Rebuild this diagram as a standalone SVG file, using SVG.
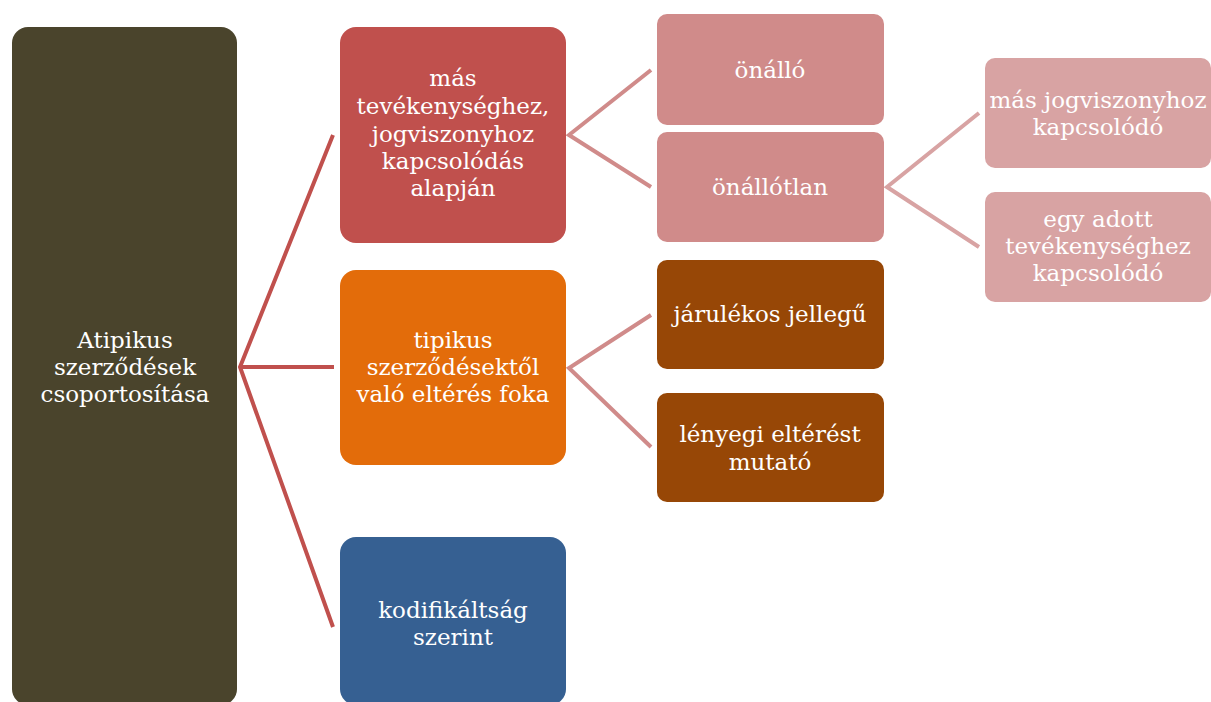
<svg xmlns="http://www.w3.org/2000/svg" width="1211" height="702" viewBox="0 0 1211 702">
<style>
text{font-family:"DejaVu Serif","Liberation Serif",serif;font-size:23px;fill:#ffffff;text-anchor:middle;dominant-baseline:central}
.c1{stroke:#c0504d;stroke-width:4;fill:none}
.c2{stroke:#d08b8a;stroke-width:4;fill:none}
.c3{stroke:#d8a3a3;stroke-width:4;fill:none}
</style>
<rect width="1211" height="702" fill="#ffffff"/>
<g id="connectors">
<polyline class="c1" points="333,135 240,367 333,627"/>
<line class="c1" x1="240" y1="367" x2="334" y2="367"/>
<polyline class="c2" points="651,70 569,135 651,187"/>
<polyline class="c2" points="651,315 569,368 651,447"/>
<polyline class="c3" points="979,113 887,187 979,247"/>
</g>
<g id="root">
<rect x="12" y="27" width="225" height="678" rx="16" fill="#4a442c"/>
<text x="125" y="340">Atipikus</text>
<text x="125" y="367">szerződések</text>
<text x="125" y="394">csoportosítása</text>
</g>
<g id="n1">
<rect x="340" y="27" width="226" height="216" rx="16" fill="#c0504d"/>
<text x="453" y="78">más</text>
<text x="453" y="106">tevékenységhez,</text>
<text x="453" y="134">jogviszonyhoz</text>
<text x="453" y="161">kapcsolódás</text>
<text x="453" y="188">alapján</text>
</g>
<g id="n2">
<rect x="340" y="270" width="226" height="195" rx="16" fill="#e36c0a"/>
<text x="453" y="340">tipikus</text>
<text x="453" y="367">szerződésektől</text>
<text x="453" y="394">való eltérés foka</text>
</g>
<g id="n3">
<rect x="340" y="537" width="226" height="168" rx="16" fill="#366092"/>
<text x="453" y="610">kodifikáltság</text>
<text x="453" y="637">szerint</text>
</g>
<g id="n11">
<rect x="657" y="14" width="227" height="111" rx="10" fill="#d08b8a"/>
<text x="770" y="70">önálló</text>
</g>
<g id="n12">
<rect x="657" y="132" width="227" height="110" rx="10" fill="#d08b8a"/>
<text x="770" y="187">önállótlan</text>
</g>
<g id="n21">
<rect x="657" y="260" width="227" height="109" rx="10" fill="#974706"/>
<text x="770" y="314">járulékos jellegű</text>
</g>
<g id="n22">
<rect x="657" y="393" width="227" height="109" rx="10" fill="#974706"/>
<text x="770" y="434">lényegi eltérést</text>
<text x="770" y="462">mutató</text>
</g>
<g id="n121">
<rect x="985" y="58" width="226" height="110" rx="10" fill="#d8a3a3"/>
<text x="1098" y="100">más jogviszonyhoz</text>
<text x="1098" y="127">kapcsolódó</text>
</g>
<g id="n122">
<rect x="985" y="192" width="226" height="110" rx="10" fill="#d8a3a3"/>
<text x="1098" y="219">egy adott</text>
<text x="1098" y="246">tevékenységhez</text>
<text x="1098" y="273">kapcsolódó</text>
</g>
</svg>
